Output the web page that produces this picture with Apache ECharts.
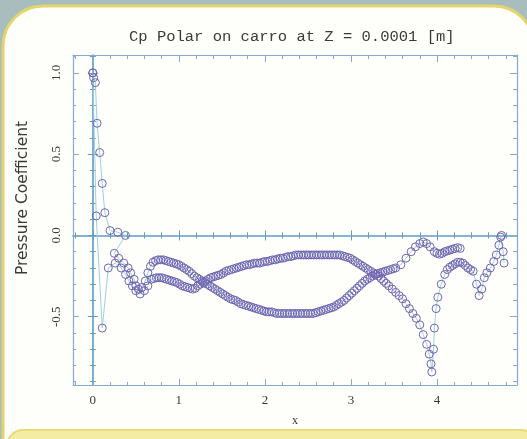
<!DOCTYPE html>
<html>
<head>
<meta charset="utf-8">
<script src="https://cdn.jsdelivr.net/npm/echarts@6/dist/echarts.min.js"></script>
<style>html,body{margin:0;padding:0;background:#a8bdbd;}#c{width:527px;height:439px;}</style>
</head>
<body>
<div id="c"></div>
<script>
// ---- data ----
const titleText = 'Cp Polar on carro at Z = 0.0001 [m]';
const xName = 'x';
const yName = 'Pressure Coefficient';
const xMajor = [0, 1, 2, 3, 4];
const xMinor = [-0.2, 0.2, 0.4, 0.6, 0.8, 1.2, 1.4, 1.6, 1.8, 2.2, 2.4, 2.6, 2.8, 3.2, 3.4, 3.6, 3.8, 4.2, 4.4, 4.6, 4.8];
const yMajor = [-0.5, 0, 0.5, 1.0];
const yMinor = [-0.9, -0.8, -0.7, -0.6, -0.4, -0.3, -0.2, -0.1, 0.1, 0.2, 0.3, 0.4, 0.6, 0.7, 0.8, 0.9, 1.1];
const xRange = [-0.23, 4.93];
const yRange = [-0.92, 1.11];

// surface 1 : x, Cp
const surf1 = [
  [0.00, 1.00], [0.01, 0.97], [0.03, 0.94], [0.05, 0.69], [0.08, 0.51], [0.11, 0.32], [0.14, 0.14],
  [0.20, 0.03], [0.29, 0.02], [0.38, 0.00], [0.25, -0.11], [0.30, -0.14], [0.36, -0.17], [0.41, -0.20],
  [0.44, -0.23], [0.48, -0.27], [0.50, -0.31], [0.53, -0.33], [0.57, -0.32], [0.61, -0.28], [0.64, -0.23],
  [0.67, -0.19], [0.70, -0.165], [0.73, -0.155], [0.76, -0.15], [0.79, -0.15], [0.82, -0.15], [0.85, -0.155],
  [0.88, -0.16], [0.91, -0.165], [0.94, -0.17], [0.97, -0.175], [1.00, -0.18], [1.03, -0.19], [1.06, -0.20],
  [1.09, -0.21], [1.12, -0.22], [1.15, -0.235], [1.18, -0.25], [1.21, -0.26], [1.24, -0.27], [1.27, -0.28],
  [1.30, -0.29], [1.33, -0.30], [1.36, -0.31], [1.39, -0.32], [1.42, -0.33], [1.45, -0.34], [1.48, -0.35],
  [1.51, -0.36], [1.54, -0.37], [1.57, -0.38], [1.60, -0.39], [1.63, -0.395], [1.66, -0.40], [1.69, -0.41],
  [1.72, -0.42], [1.75, -0.425], [1.78, -0.43], [1.81, -0.435], [1.84, -0.44], [1.87, -0.445], [1.90, -0.45],
  [1.93, -0.455], [1.96, -0.46], [1.99, -0.465], [2.02, -0.47], [2.05, -0.47], [2.08, -0.47], [2.11, -0.475],
  [2.14, -0.48], [2.17, -0.48], [2.20, -0.48], [2.23, -0.48], [2.26, -0.48], [2.29, -0.48], [2.32, -0.48],
  [2.35, -0.48], [2.38, -0.48], [2.41, -0.48], [2.44, -0.48], [2.47, -0.48], [2.50, -0.48], [2.53, -0.48],
  [2.56, -0.48], [2.59, -0.475], [2.62, -0.47], [2.65, -0.465], [2.68, -0.46], [2.71, -0.455], [2.74, -0.45],
  [2.77, -0.445], [2.80, -0.44], [2.83, -0.43], [2.86, -0.42], [2.89, -0.41], [2.92, -0.40], [2.95, -0.385],
  [2.98, -0.37], [3.01, -0.355], [3.04, -0.34], [3.07, -0.325], [3.10, -0.31], [3.13, -0.295], [3.16, -0.28],
  [3.19, -0.27], [3.22, -0.26], [3.25, -0.25], [3.28, -0.24], [3.31, -0.235], [3.34, -0.23], [3.37, -0.225],
  [3.40, -0.22], [3.43, -0.215], [3.46, -0.21], [3.49, -0.205], [3.52, -0.20], [3.58, -0.18], [3.64, -0.14],
  [3.70, -0.10], [3.75, -0.07], [3.80, -0.05], [3.84, -0.04], [3.88, -0.05], [3.92, -0.07], [3.97, -0.10],
  [4.00, -0.11], [4.03, -0.115], [4.06, -0.11], [4.09, -0.10], [4.12, -0.095], [4.15, -0.09], [4.18, -0.085],
  [4.21, -0.08], [4.24, -0.075], [4.27, -0.08]
];

// surface 2 : x, Cp
const surf2 = [
  [0.00, 1.00], [0.04, 0.12], [0.11, -0.57], [0.18, -0.20], [0.26, -0.17], [0.33, -0.20], [0.38, -0.24],
  [0.42, -0.28], [0.46, -0.31], [0.50, -0.34], [0.55, -0.36], [0.60, -0.34], [0.64, -0.31], [0.68, -0.27],
  [0.71, -0.265], [0.74, -0.26], [0.77, -0.26], [0.80, -0.26], [0.83, -0.265], [0.86, -0.27], [0.89, -0.275],
  [0.92, -0.28], [0.95, -0.285], [0.98, -0.29], [1.01, -0.30], [1.04, -0.31], [1.07, -0.315], [1.10, -0.32],
  [1.13, -0.325], [1.16, -0.33], [1.19, -0.325], [1.22, -0.31], [1.25, -0.30], [1.28, -0.29], [1.31, -0.28],
  [1.34, -0.27], [1.37, -0.26], [1.40, -0.255], [1.43, -0.25], [1.46, -0.245], [1.49, -0.24], [1.52, -0.23],
  [1.55, -0.22], [1.58, -0.215], [1.61, -0.21], [1.64, -0.205], [1.67, -0.20], [1.70, -0.195], [1.73, -0.19],
  [1.76, -0.185], [1.79, -0.18], [1.82, -0.18], [1.85, -0.175], [1.88, -0.17], [1.91, -0.17], [1.94, -0.17],
  [1.97, -0.165], [2.00, -0.16], [2.03, -0.16], [2.06, -0.155], [2.09, -0.15], [2.12, -0.15], [2.15, -0.145],
  [2.18, -0.14], [2.21, -0.14], [2.24, -0.135], [2.27, -0.13], [2.30, -0.13], [2.33, -0.125], [2.36, -0.12],
  [2.39, -0.12], [2.42, -0.12], [2.45, -0.12], [2.48, -0.12], [2.51, -0.12], [2.54, -0.12], [2.57, -0.12],
  [2.60, -0.12], [2.63, -0.12], [2.66, -0.12], [2.69, -0.12], [2.72, -0.12], [2.75, -0.12], [2.78, -0.12],
  [2.81, -0.12], [2.84, -0.12], [2.87, -0.12], [2.90, -0.125], [2.93, -0.13], [2.96, -0.135], [2.99, -0.14],
  [3.02, -0.15], [3.05, -0.16], [3.08, -0.17], [3.11, -0.18], [3.14, -0.19], [3.17, -0.20], [3.20, -0.21],
  [3.23, -0.22], [3.26, -0.23], [3.29, -0.24], [3.32, -0.25], [3.35, -0.265], [3.38, -0.28], [3.41, -0.295],
  [3.44, -0.31], [3.48, -0.33], [3.52, -0.35], [3.56, -0.37], [3.60, -0.39], [3.64, -0.42], [3.68, -0.45],
  [3.72, -0.48], [3.76, -0.51], [3.80, -0.55], [3.84, -0.61], [3.88, -0.67], [3.91, -0.73], [3.93, -0.79],
  [3.94, -0.84], [3.96, -0.70], [3.97, -0.57], [3.99, -0.45], [4.01, -0.38], [4.05, -0.30], [4.09, -0.24],
  [4.12, -0.21], [4.15, -0.195], [4.18, -0.185], [4.21, -0.175], [4.24, -0.165], [4.27, -0.165], [4.30, -0.17],
  [4.33, -0.185], [4.36, -0.20], [4.39, -0.21], [4.42, -0.22], [4.46, -0.30], [4.49, -0.37], [4.52, -0.33],
  [4.55, -0.26], [4.58, -0.23], [4.62, -0.20], [4.66, -0.16], [4.69, -0.12], [4.72, -0.06], [4.74, -0.01],
  [4.75, 0.00], [4.77, -0.10], [4.78, -0.17]
];

// ---- styling ----
const frameColor = '#86aacb';
const zeroColor = '#5f9cc4';
const markColor = '#6f66b2';
const lineColor = '#9fd0e0';
const txtColor = '#3a3a3a';
const serif = '"Liberation Serif", "DejaVu Serif", serif';

function xAx(pos, ticks, len, inside, onZero, withLine, lineCol, opts) {
  return Object.assign({
    type: 'value', position: pos, min: xRange[0], max: xRange[1], gridIndex: 0,
    axisLine: { show: withLine, onZero: onZero, lineStyle: { color: lineCol, width: 1.2 } },
    axisTick: { show: true, inside: inside, length: len, customValues: ticks, lineStyle: { color: lineCol, width: 1 } },
    axisLabel: { show: false },
    splitLine: { show: false }
  }, opts || {});
}
function yAx(pos, ticks, len, inside, onZero, withLine, lineCol, opts) {
  return Object.assign({
    type: 'value', position: pos, min: yRange[0], max: yRange[1], gridIndex: 0,
    axisLine: { show: withLine, onZero: onZero, lineStyle: { color: lineCol, width: 1.2 } },
    axisTick: { show: true, inside: inside, length: len, customValues: ticks, lineStyle: { color: lineCol, width: 1 } },
    axisLabel: { show: false },
    splitLine: { show: false }
  }, opts || {});
}
const zeroLine = { show: true, onZero: true, onZeroAxisIndex: 0, lineStyle: { color: zeroColor, width: 1.6 } };
const zeroNoLine = { show: false, onZero: true, onZeroAxisIndex: 0 };

const xAxes = [
  xAx('bottom', xMajor, 6, true, false, true, frameColor, {
    name: xName, nameLocation: 'middle', nameGap: 30,
    nameTextStyle: { fontFamily: serif, fontSize: 12, color: txtColor },
    axisLabel: { show: true, customValues: xMajor, margin: 9, fontFamily: serif, fontSize: 13, color: txtColor,
      formatter: v => String(Math.round(v)) }
  }),
  xAx('bottom', xMinor, 3, true, false, false, frameColor),
  xAx('top', xMajor, 7, true, false, true, frameColor),
  xAx('top', xMinor, 4, true, false, false, frameColor),
  xAx('bottom', xMajor, 5, true, true, true, zeroColor, { axisLine: zeroLine }),
  xAx('bottom', xMajor, 5, false, true, false, zeroColor, { axisLine: zeroNoLine }),
  xAx('bottom', xMinor, 3, true, true, false, zeroColor, { axisLine: zeroNoLine }),
  xAx('bottom', xMinor, 3, false, true, false, zeroColor, { axisLine: zeroNoLine })
];
const yAxes = [
  yAx('left', yMajor, 6, true, false, true, frameColor, {
    name: yName, nameLocation: 'middle', nameGap: 42, nameRotate: 90,
    nameTextStyle: { fontFamily: '"DejaVu Sans", sans-serif', fontSize: 15.5, color: txtColor, padding: [0, 0, 0, 44] },
    axisLabel: { show: true, customValues: yMajor, rotate: 90, margin: 10, fontFamily: serif, fontSize: 13, color: txtColor,
      formatter: v => v.toFixed(1) }
  }),
  yAx('left', yMinor, 3, true, false, false, frameColor),
  yAx('right', yMajor, 7, true, false, true, frameColor),
  yAx('right', yMinor, 4, true, false, false, frameColor),
  yAx('left', yMajor, 5, true, true, true, zeroColor, { axisLine: zeroLine }),
  yAx('left', yMajor, 5, false, true, false, zeroColor, { axisLine: zeroNoLine }),
  yAx('left', yMinor, 3, true, true, false, zeroColor, { axisLine: zeroNoLine }),
  yAx('left', yMinor, 3, false, true, false, zeroColor, { axisLine: zeroNoLine })
];

function surfSeries(name, data) {
  return {
    name: name, type: 'line', xAxisIndex: 0, yAxisIndex: 0, data: data,
    symbol: 'circle', symbolSize: 8, showSymbol: true,
    itemStyle: { color: 'rgba(255,255,255,0)', borderColor: markColor, borderWidth: 1 },
    lineStyle: { color: lineColor, width: 1 },
    z: 3
  };
}

const chart = echarts.init(document.getElementById('c'), null, { renderer: 'canvas' });
chart.setOption({
  animation: false,
  backgroundColor: '#a8bdbd',
  graphic: [
    { type: 'rect', z: -10, shape: { x: 3, y: 6, width: 531, height: 480, r: 40 },
      style: { fill: '#fefefb', stroke: '#e3d56c', lineWidth: 3 } },
    { type: 'rect', z: -9, shape: { x: 7, y: 430, width: 530, height: 40, r: 16 },
      style: { fill: '#f3eca2', stroke: '#e6dc7a', lineWidth: 2 } }
  ],
  title: {
    text: titleText, left: 124, top: 24,
    textStyle: { fontFamily: '"Liberation Mono", "DejaVu Sans Mono", monospace', fontSize: 15.5, fontWeight: 'normal', color: txtColor }
  },
  grid: { left: 73, right: 10, top: 55, bottom: 54, containLabel: false },
  xAxis: xAxes,
  yAxis: yAxes,
  series: [surfSeries('surface 1', surf1), surfSeries('surface 2', surf2)]
});
</script>
</body>
</html>
